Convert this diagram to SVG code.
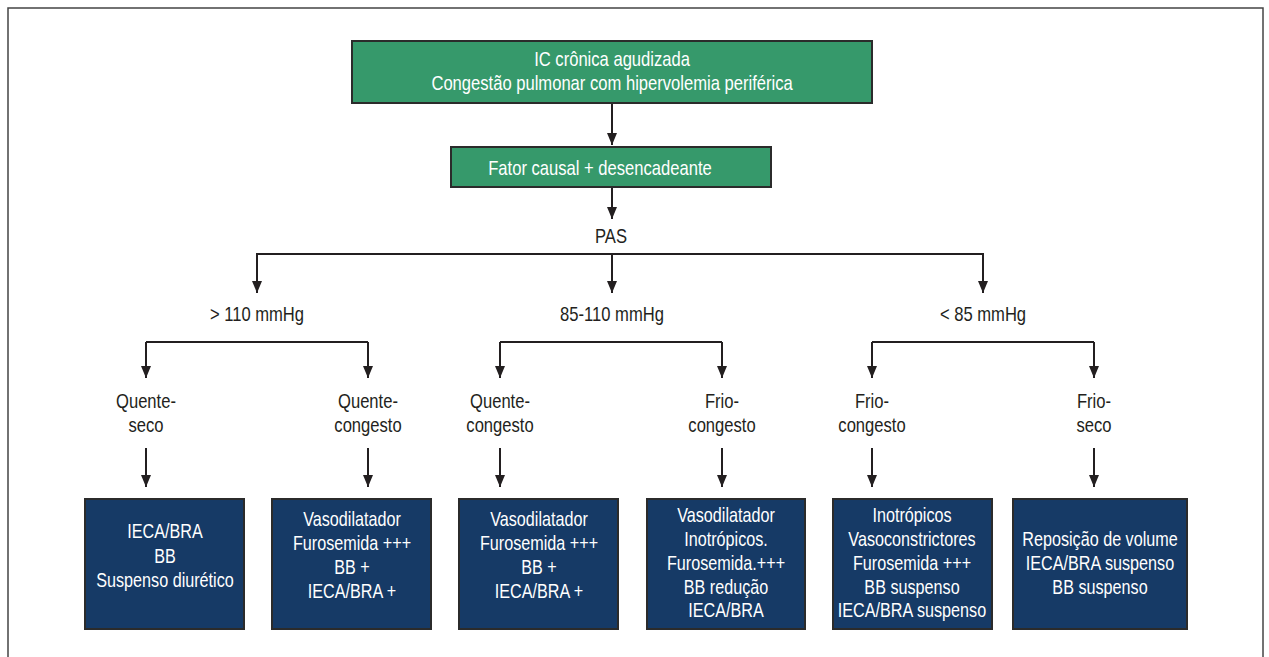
<svg xmlns="http://www.w3.org/2000/svg" width="1269" height="657" viewBox="0 0 1269 657">
<defs>
<style>
text{font-family:"Liberation Sans",Arial,sans-serif;font-size:20px;text-anchor:middle;transform-box:fill-box;transform-origin:center;transform:scaleX(0.83)}
.w{fill:#ffffff}
.k{fill:#231f20}
.b{font-size:19.5px}
.g{fill:#36996b;stroke:#2b2b2b;stroke-width:2}
.n{fill:#163a66;stroke:#2b2b2b;stroke-width:2}
.c{fill:none;stroke:#231f20;stroke-width:2}
</style>
<marker id="ah" viewBox="0 0 12 10" refX="12" refY="5" markerWidth="12" markerHeight="10" markerUnits="userSpaceOnUse" orient="auto">
<path d="M0,0 L12,5 L0,10 Z" fill="#231f20"/>
</marker>
</defs>
<rect x="8" y="8" width="1255" height="660" fill="#ffffff" stroke="#444444" stroke-width="1.5"/>
<g id="connectors">
<path class="c" d="M612,103 V145" marker-end="url(#ah)"/>
<path class="c" d="M612,187 V219" marker-end="url(#ah)"/>
<path class="c" d="M257,293 V254 H983 V293" />
<path class="c" d="M257,254 V293" marker-end="url(#ah)"/>
<path class="c" d="M612,254 V293" marker-end="url(#ah)"/>
<path class="c" d="M983,254 V293" marker-end="url(#ah)"/>
<path class="c" d="M146,342 H368"/>
<path class="c" d="M146,342 V378" marker-end="url(#ah)"/>
<path class="c" d="M368,342 V378" marker-end="url(#ah)"/>
<path class="c" d="M500,342 H722"/>
<path class="c" d="M500,342 V378" marker-end="url(#ah)"/>
<path class="c" d="M722,342 V378" marker-end="url(#ah)"/>
<path class="c" d="M872,342 H1094"/>
<path class="c" d="M872,342 V378" marker-end="url(#ah)"/>
<path class="c" d="M1094,342 V378" marker-end="url(#ah)"/>
<path class="c" d="M146,448 V487" marker-end="url(#ah)"/>
<path class="c" d="M368,448 V487" marker-end="url(#ah)"/>
<path class="c" d="M500,448 V487" marker-end="url(#ah)"/>
<path class="c" d="M722,448 V487" marker-end="url(#ah)"/>
<path class="c" d="M872,448 V487" marker-end="url(#ah)"/>
<path class="c" d="M1094,448 V487" marker-end="url(#ah)"/>
</g>
<g id="n-top">
<rect class="g" x="352" y="41" width="520" height="62"/>
<text class="w" x="612" y="66">IC crônica agudizada</text>
<text class="w" x="612" y="90">Congestão pulmonar com hipervolemia periférica</text>
</g>
<g id="n-fator">
<rect class="g" x="451" y="147" width="320" height="40"/>
<text class="w" x="600" y="175">Fator causal + desencadeante</text>
</g>
<g id="n-pas"><text class="k" x="611" y="243">PAS</text></g>
<g id="n-gt110"><text class="k" x="257" y="321">&gt; 110 mmHg</text></g>
<g id="n-85110"><text class="k" x="612" y="321">85-110 mmHg</text></g>
<g id="n-lt85"><text class="k" x="983" y="321">&lt; 85 mmHg</text></g>
<g id="n-qs1"><text class="k" x="146" y="408">Quente-</text><text class="k" x="146" y="432">seco</text></g>
<g id="n-qc1"><text class="k" x="368" y="408">Quente-</text><text class="k" x="368" y="432">congesto</text></g>
<g id="n-qc2"><text class="k" x="500" y="408">Quente-</text><text class="k" x="500" y="432">congesto</text></g>
<g id="n-fc1"><text class="k" x="722" y="408">Frio-</text><text class="k" x="722" y="432">congesto</text></g>
<g id="n-fc2"><text class="k" x="872" y="408">Frio-</text><text class="k" x="872" y="432">congesto</text></g>
<g id="n-fs"><text class="k" x="1094" y="408">Frio-</text><text class="k" x="1094" y="432">seco</text></g>
<g id="b1">
<rect class="n" x="85" y="499" width="159" height="130"/>
<text class="w b" x="165" y="538">IECA/BRA</text>
<text class="w b" x="165" y="563">BB</text>
<text class="w b" x="165" y="587">Suspenso diurético</text>
</g>
<g id="b2">
<rect class="n" x="272" y="499" width="159" height="130"/>
<text class="w b" x="352" y="526">Vasodilatador</text>
<text class="w b" x="352" y="550">Furosemida +++</text>
<text class="w b" x="352" y="574">BB +</text>
<text class="w b" x="352" y="598">IECA/BRA +</text>
</g>
<g id="b3">
<rect class="n" x="459" y="499" width="159" height="130"/>
<text class="w b" x="539" y="526">Vasodilatador</text>
<text class="w b" x="539" y="550">Furosemida +++</text>
<text class="w b" x="539" y="574">BB +</text>
<text class="w b" x="539" y="598">IECA/BRA +</text>
</g>
<g id="b4">
<rect class="n" x="647" y="499" width="158" height="130"/>
<text class="w b" x="726" y="522">Vasodilatador</text>
<text class="w b" x="726" y="546">Inotrópicos.</text>
<text class="w b" x="726" y="570">Furosemida.+++</text>
<text class="w b" x="726" y="594">BB redução</text>
<text class="w b" x="726" y="617">IECA/BRA</text>
</g>
<g id="b5">
<rect class="n" x="833" y="499" width="159" height="130"/>
<text class="w b" x="912" y="522">Inotrópicos</text>
<text class="w b" x="912" y="546">Vasoconstrictores</text>
<text class="w b" x="912" y="570">Furosemida +++</text>
<text class="w b" x="912" y="594">BB suspenso</text>
<text class="w b" x="912" y="617">IECA/BRA suspenso</text>
</g>
<g id="b6">
<rect class="n" x="1013" y="499" width="174" height="130"/>
<text class="w b" x="1100" y="546">Reposição de volume</text>
<text class="w b" x="1100" y="570">IECA/BRA suspenso</text>
<text class="w b" x="1100" y="594">BB suspenso</text>
</g>
</svg>
